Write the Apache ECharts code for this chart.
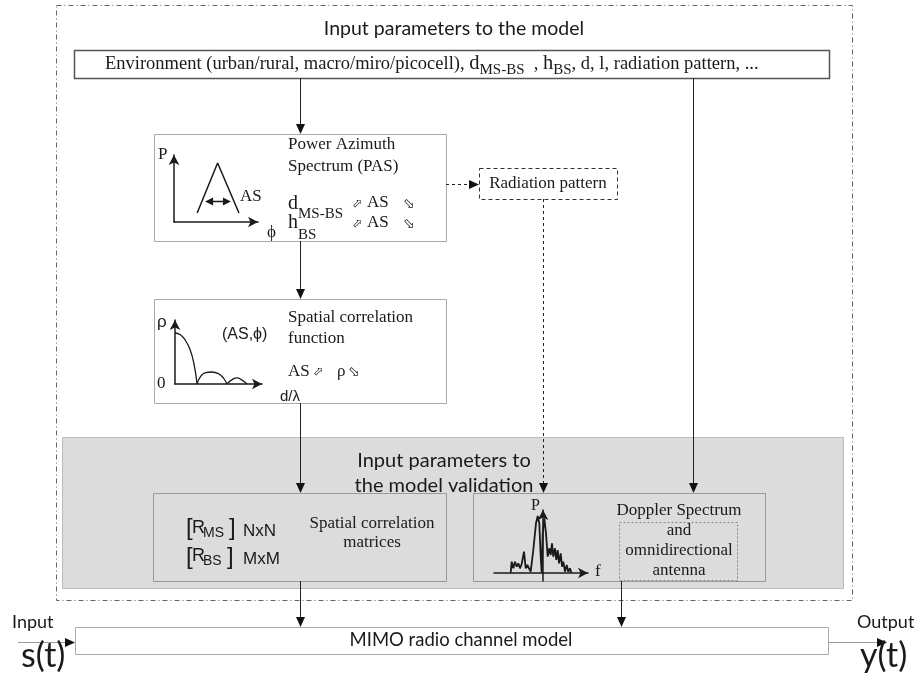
<!DOCTYPE html>
<html><head><meta charset="utf-8">
<script src="https://cdn.jsdelivr.net/npm/echarts@6/dist/echarts.min.js"></script>
<style>html,body{margin:0;padding:0;background:#fff}#c{width:922px;height:675px}</style>
</head><body><div id="c"></div>
<script>
// ---------------- content / data ----------------
const titleTop = 'Input parameters to the model';
const envParts = ['Environment (urban/rural, macro/miro/picocell), ', 'd', 'MS-BS', '  , ', 'h', 'BS', ', d, l, radiation pattern, ...'];
const pasCaption = ['Power Azimuth', 'Spectrum (PAS)'];
const corrCaption = ['Spatial correlation', 'function'];
const radiationCaption = 'Radiation pattern';
const validationTitle = ['Input parameters to', 'the model validation'];
const matricesCaption = ['Spatial correlation', 'matrices'];
const dopplerCaption = ['Doppler Spectrum', 'and', 'omnidirectional', 'antenna'];
const mimoCaption = 'MIMO radio channel model';
const ioLabels = ['Input', 's(t)', 'Output', 'y(t)'];

// PAS sketch: (phi, P)
const pasTriangle = [[2.6, 1.25], [4.9, 8.2], [7.3, 1.25]];
const pasSpreadArrow = [[3.5, 2.9], [6.4, 2.9]];
// spatial correlation sketch: (d/lambda, rho)
const corrMainLobe = [[0, 1.0], [0.22, 0.97], [0.43, 0.87], [0.65, 0.68], [0.83, 0.38], [0.96, 0]];
const corrSideLobe1 = [[0.96, 0], [1.1, 0.14], [1.3, 0.22], [1.6, 0.235], [1.9, 0.2], [2.1, 0.12], [2.26, 0]];
const corrSideLobe2 = [[2.26, 0], [2.5, 0.09], [2.7, 0.12], [2.9, 0.08], [3.13, 0]];
// Doppler spectrum sketch: (f, P)
const dopplerSpectrum = [[-3.23,0.03],[-3.13,1.13],[-2.97,0.47],[-2.8,1.13],[-2.63,0.63],[-2.47,0.97],[-2.3,0.47],[-2.13,0.9],[-1.9,2.13],[-1.73,0.47],[-1.57,0.8],[-1.4,0.63],[-1.23,0.13],[-0.97,2.3],[-0.7,4.97],[-0.53,5.7],[-0.37,4.97],[-0.23,1.63],[-0.13,0],[-0.03,3.97],[0.13,5.47],[0.3,3.97],[0.47,1.63],[0.63,2.47],[0.77,1.8],[0.9,2.97],[1.03,1.63],[1.2,2.47],[1.33,1.3],[1.47,2.3],[1.6,0.97],[1.77,1.97],[1.9,0.63],[2.03,1.13],[2.2,0.13],[2.37,0.8],[2.53,0.13],[2.7,0.47],[2.83,0.03]];

// ---------------- layout (diagram coordinates on the hidden 922x675 axes) ----------------
const SERIF = 'Liberation Serif', SANS = 'Liberation Sans', HAND = 'Lato', SYM = 'DejaVu Sans';
const INK = '#1a1a1a';
const frameRect = [56, 5, 852, 600];
const validationRect = [62, 437, 843, 588];
const boxes = [
  { r: [74, 50, 829, 78], fill: '#fff', stroke: '#555', w: 1.5 },
  { r: [154, 134, 446, 241], fill: '#fff', stroke: '#aaa', w: 1 },
  { r: [154, 299, 446, 403], fill: '#fff', stroke: '#aaa', w: 1 },
  { r: [479, 168, 617, 199], fill: '#fff', stroke: '#333', w: 1, dash: [4, 3] },
  { r: [153, 493, 446, 581], fill: '#dcdcdc', stroke: '#999', w: 1 },
  { r: [473, 493, 765, 581], fill: '#dcdcdc', stroke: '#999', w: 1 },
  { r: [619, 522, 737, 580], fill: null, stroke: '#888', w: 1, dash: [2, 2] },
  { r: [75, 627, 828, 654], fill: '#fff', stroke: '#aaa', w: 1 }
];
const connectors = [
  [300, 78, 300, 134, 's'], [300, 241, 300, 299, 's'], [300, 403, 300, 493, 's'], [300, 581, 300, 627, 's'],
  [693, 78, 693, 493, 's'], [621, 581, 621, 627, 's'],
  [446, 184, 479, 184, 'd'], [543, 199, 543, 493, 'd'],
  [18, 642, 75, 642, 'g'], [828, 642, 887, 642, 'g']
];
// text runs: [x, y, align, [[text, size, family, dx, dy], ...]]
const texts = [
  [454, 29, 'center', [[titleTop, 19.5, HAND]]],
  [105, 64, 'left', [[envParts[0], 18.5, SERIF], [envParts[1], 20.5, SERIF], [envParts[2], 15, SERIF, 0, 6], [envParts[3], 18.5, SERIF], [envParts[4], 20.5, SERIF], [envParts[5], 15, SERIF, 0, 6], [envParts[6], 18.5, SERIF]]],
  [288, 145, 'left', [[pasCaption[0], 17, SERIF]]],
  [288, 167, 'left', [[pasCaption[1], 17, SERIF]]],
  [288, 204, 'left', [['d', 20, SERIF]]], [298, 214, 'left', [[envParts[2], 15, SERIF]]],
  [352, 204, 'left', [['\u2B00', 12, SYM]]], [367, 203, 'left', [['AS', 17, SERIF]]], [403, 204, 'left', [['\u2B02', 14, SYM]]],
  [288, 223, 'left', [['h', 20, SERIF]]], [298, 235, 'left', [[envParts[5], 15, SERIF]]],
  [352, 224, 'left', [['\u2B00', 12, SYM]]], [367, 223, 'left', [['AS', 17, SERIF]]], [403, 224, 'left', [['\u2B02', 14, SYM]]],
  [158, 155, 'left', [['P', 17, SERIF]]], [240, 197, 'left', [['AS', 17, SERIF]]], [267, 233, 'left', [['\u03D5', 17, SERIF]]],
  [548, 184, 'center', [[radiationCaption, 17, SERIF]]],
  [288, 318, 'left', [[corrCaption[0], 17, SERIF]]],
  [288, 339, 'left', [[corrCaption[1], 17, SERIF]]],
  [222, 335, 'left', [['(AS,\u03D5)', 16, SANS]]],
  [157, 322, 'left', [['\u03C1', 17, SANS]]], [157, 384, 'left', [['0', 17, SERIF]]], [280, 397, 'left', [['d/\u03BB', 15, SANS]]],
  [288, 372, 'left', [['AS', 17, SERIF]]], [313, 372, 'left', [['\u2B00', 12, SYM]]], [337, 372, 'left', [['\u03C1', 17, SERIF]]], [348, 372, 'left', [['\u2B02', 14, SYM]]],
  [444, 461, 'center', [[validationTitle[0], 20, HAND]]],
  [444, 486, 'center', [[validationTitle[1], 20, HAND]]],
  [186, 528, 'left', [['[', 24, SANS]]], [192, 528, 'left', [['R', 18, SANS]]], [203, 533, 'left', [['MS', 14, SANS]]], [229, 528, 'left', [[']', 24, SANS]]], [243, 531, 'left', [['NxN', 17, SANS]]],
  [186, 557, 'left', [['[', 24, SANS]]], [192, 556, 'left', [['R', 18, SANS]]], [203, 561, 'left', [['BS', 14, SANS]]], [227, 557, 'left', [[']', 24, SANS]]], [243, 559, 'left', [['MxM', 17, SANS]]],
  [372, 524, 'center', [[matricesCaption[0], 17, SERIF]]],
  [372, 543, 'center', [[matricesCaption[1], 17, SERIF]]],
  [679, 511, 'center', [[dopplerCaption[0], 17, SERIF]]],
  [679, 531, 'center', [[dopplerCaption[1], 17, SERIF]]],
  [679, 551, 'center', [[dopplerCaption[2], 17, SERIF]]],
  [679, 571, 'center', [[dopplerCaption[3], 17, SERIF]]],
  [531, 506, 'left', [['P', 16, SERIF]]], [595, 572, 'left', [['f', 17, SERIF]]],
  [461, 640, 'center', [[mimoCaption, 18.5, HAND]]],
  [12, 622, 'left', [[ioLabels[0], 18, HAND]]],
  [21, 656, 'left', [[ioLabels[1], 34, HAND]]],
  [857, 622, 'left', [[ioLabels[2], 18, HAND]]],
  [860, 656, 'left', [[ioLabels[3], 34, HAND]]]
];

// ---------------- helpers ----------------
const mctx = document.createElement('canvas').getContext('2d');
function textWidth(t, size, fam) { mctx.font = size + 'px ' + fam; return mctx.measureText(t).width; }
function crisp(v) { return Math.round(v) + 0.5; }
function rectEl(api, r, st) {
  const a = api.coord([r[0], r[1]]), b = api.coord([r[2], r[3]]);
  return { type: 'rect', shape: { x: crisp(a[0]), y: crisp(a[1]), width: Math.round(b[0] - a[0]), height: Math.round(b[1] - a[1]) }, style: st };
}
function head(tip, from, len, hw, color) {
  const dx = tip[0] - from[0], dy = tip[1] - from[1], d = Math.hypot(dx, dy) || 1;
  const ux = dx / d, uy = dy / d, bx = tip[0] - ux * len, by = tip[1] - uy * len;
  return { type: 'polygon', shape: { points: [tip, [bx - uy * hw, by + ux * hw], [bx + uy * hw, by - ux * hw]] }, style: { fill: color } };
}
function arrowEls(p0, p1, heads, lineColor, headColor, dash, len, hw) {
  const dx = p1[0] - p0[0], dy = p1[1] - p0[1], d = Math.hypot(dx, dy);
  const ux = dx / d, uy = dy / d;
  const s = heads[0] ? [p0[0] + ux * len * 0.8, p0[1] + uy * len * 0.8] : p0;
  const e = heads[1] ? [p1[0] - ux * len * 0.8, p1[1] - uy * len * 0.8] : p1;
  const vert = Math.abs(dx) < 0.01, hor = Math.abs(dy) < 0.01;
  const c = v => Math.round(v) + 0.5;
  const els = [{ type: 'line', shape: { x1: vert ? c(s[0]) : s[0], y1: hor ? c(s[1]) : s[1], x2: vert ? c(e[0]) : e[0], y2: hor ? c(e[1]) : e[1] }, style: { stroke: lineColor, lineWidth: 1, lineDash: dash || null } }];
  const pp0 = [vert ? c(p0[0]) : p0[0], hor ? c(p0[1]) : p0[1]], pp1 = [vert ? c(p1[0]) : p1[0], hor ? c(p1[1]) : p1[1]];
  if (heads[0]) els.push(head(pp0, pp1, len, hw, headColor));
  if (heads[1]) els.push(head(pp1, pp0, len, hw, headColor));
  return els;
}

// ---------------- chart ----------------
function miniAxis(g, min, max) {
  return { gridIndex: g, type: 'value', min: min, max: max, z: 10,
    axisLine: { show: true, onZero: true, symbol: ['none', 'arrow'], symbolSize: [8, 10], lineStyle: { color: INK, width: 1.5 } },
    axisTick: { show: false }, axisLabel: { show: false }, splitLine: { show: false } };
}
const chart = echarts.init(document.getElementById('c'), null, { renderer: 'canvas' });
const option = {
  animation: false,
  backgroundColor: '#fff',
  grid: [
    { left: 0, top: 0, width: 922, height: 675 },
    { left: 174, top: 155, width: 84, height: 67 },
    { left: 175, top: 320, width: 87, height: 64 },
    { left: 494, top: 510, width: 94, height: 71 }
  ],
  xAxis: [
    { gridIndex: 0, type: 'value', min: 0, max: 922, show: false },
    miniAxis(1, 0, 84 / 8.9),
    miniAxis(2, 0, 87 / 23),
    miniAxis(3, -4.9, 4.5)
  ],
  yAxis: [
    { gridIndex: 0, type: 'value', min: 0, max: 675, inverse: true, show: false },
    miniAxis(1, 0, 67 / 7.2),
    miniAxis(2, 0, 64 / 51),
    miniAxis(3, -0.8, 6.3)
  ],
  series: [
    { type: 'custom', name: 'panels', xAxisIndex: 0, yAxisIndex: 0, z: 1, silent: true, data: [[0, 0]],
      renderItem: function (params, api) {
        const ch = [];
        ch.push(rectEl(api, validationRect, { fill: '#dcdcdc', stroke: '#bbb', lineWidth: 1 }));
        ch.push(rectEl(api, frameRect, { fill: null, stroke: '#666', lineWidth: 1, lineDash: [5, 3, 1, 3] }));
        boxes.forEach(b => ch.push(rectEl(api, b.r, { fill: b.fill || null, stroke: b.stroke, lineWidth: b.w, lineDash: b.dash || null })));
        return { type: 'group', children: ch };
      } },
    { type: 'custom', name: 'connectors', xAxisIndex: 0, yAxisIndex: 0, z: 3, silent: true, data: [[0, 0]],
      renderItem: function (params, api) {
        let ch = [];
        connectors.forEach(c => {
          const p0 = api.coord([c[0], c[1]]), p1 = api.coord([c[2], c[3]]);
          const lc = c[4] === 'g' ? '#999' : '#222';
          ch = ch.concat(arrowEls(p0, p1, [false, true], lc, '#111', c[4] === 'd' ? [3, 3] : null, 10, 4.5));
        });
        return { type: 'group', children: ch };
      } },
    { type: 'custom', name: 'labels', xAxisIndex: 0, yAxisIndex: 0, z: 4, silent: true, data: [[0, 0]],
      renderItem: function (params, api) {
        const ch = [];
        texts.forEach(t => {
          const p = api.coord([t[0], t[1]]);
          const total = t[3].reduce((s, q) => s + textWidth(q[0], q[1], q[2]), 0);
          let x = t[2] === 'center' ? p[0] - total / 2 : p[0];
          t[3].forEach(q => {
            ch.push({ type: 'text', x: x + (q[3] || 0), y: p[1] + (q[4] || 0),
              style: { text: q[0], fontSize: q[1], fontFamily: q[2], fill: INK, align: 'left', verticalAlign: 'middle' } });
            x += textWidth(q[0], q[1], q[2]);
          });
        });
        return { type: 'group', children: ch };
      } },
    { type: 'line', name: 'PAS', xAxisIndex: 1, yAxisIndex: 1, z: 5, data: pasTriangle, symbol: 'none', lineStyle: { color: INK, width: 1.5 } },
    { type: 'custom', name: 'AS spread', xAxisIndex: 1, yAxisIndex: 1, z: 5, data: [[0, 0]],
      renderItem: function (params, api) {
        const p0 = api.coord(pasSpreadArrow[0]), p1 = api.coord(pasSpreadArrow[1]);
        return { type: 'group', children: arrowEls(p0, p1, [true, true], INK, INK, null, 8, 4).map(e => { if (e.type === 'line') e.style.lineWidth = 1.5; return e; }) };
      } },
    { type: 'line', name: 'main lobe', xAxisIndex: 2, yAxisIndex: 2, z: 5, data: corrMainLobe, smooth: true, symbol: 'none', lineStyle: { color: INK, width: 1.3 } },
    { type: 'line', name: 'side lobe 1', xAxisIndex: 2, yAxisIndex: 2, z: 5, data: corrSideLobe1, smooth: true, symbol: 'none', lineStyle: { color: INK, width: 1.3 } },
    { type: 'line', name: 'side lobe 2', xAxisIndex: 2, yAxisIndex: 2, z: 5, data: corrSideLobe2, smooth: true, symbol: 'none', lineStyle: { color: INK, width: 1.3 } },
    { type: 'line', name: 'Doppler', xAxisIndex: 3, yAxisIndex: 3, z: 5, data: dopplerSpectrum, symbol: 'none', lineStyle: { color: INK, width: 1.8 } }
  ]
};
chart.setOption(option);
</script>
</body></html>
